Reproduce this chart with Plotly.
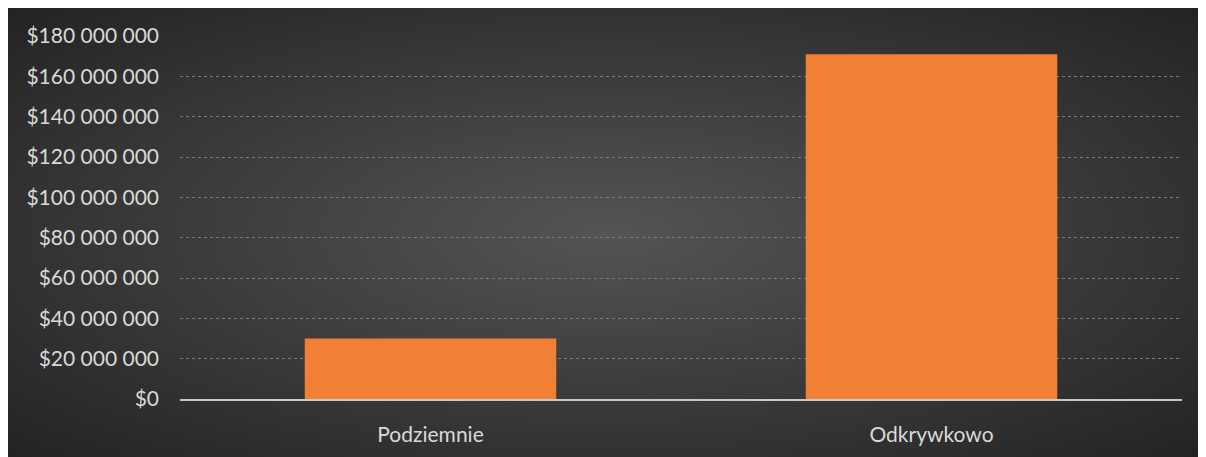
import plotly.graph_objects as go

categories = ["Podziemnie", "Odkrywkowo"]
values = [30_000_000, 171_000_000]
y_ticks = list(range(0, 180_000_001, 20_000_000))

# the page adds an 8px body margin, so the figure is sized to fit after it
W, H = 1198, 449
L, R, T, B = 172, 24, 28, 58
pw, ph = W - L - R, H - T - B

# dark radial-gradient background as inline svg
bg_svg = (
    "data:image/svg+xml;utf8,"
    "<svg xmlns='http://www.w3.org/2000/svg' width='1198' height='449' preserveAspectRatio='none'>"
    "<defs><radialGradient id='g' cx='50%' cy='50%' r='72%'>"
    "<stop offset='0' stop-color='%23545454'/><stop offset='1' stop-color='%23222222'/>"
    "</radialGradient></defs>"
    "<rect width='1198' height='449' fill='url(%23g)'/></svg>"
)

fig = go.Figure()
fig.add_trace(go.Bar(
    x=categories, y=values,
    marker=dict(color="#f17f34", line=dict(width=0)),
    width=0.502,
))

fig.add_layout_image(
    source=bg_svg, xref="paper", yref="paper",
    x=-L / pw, y=1 + T / ph,
    sizex=W / pw, sizey=H / ph,
    xanchor="left", yanchor="top", sizing="stretch", layer="below",
)

fig.update_layout(
    width=W, height=H,
    margin=dict(l=L, r=R, t=T, b=B),
    paper_bgcolor="#262626",
    plot_bgcolor="rgba(0,0,0,0)",
    separators=". ",
    showlegend=False,
    font=dict(family="Lato", size=21, color="#d9d9d9"),
)
fig.update_yaxes(
    range=[0, 180_000_000], tickvals=y_ticks, tickformat="$,.0f",
    showgrid=True, gridcolor="#7c7c7c", griddash="dot", gridwidth=1,
    zeroline=False, showline=False, ticks="", ticklabelstandoff=20,
)
fig.update_xaxes(
    showgrid=False, showline=True, linecolor="#c8c8c8", linewidth=2,
    ticks="", ticklabelstandoff=16,
)

fig.write_html(
    "out.html",
    config={"displayModeBar": False},
    post_script="document.body.style.overflow='hidden';",
)
